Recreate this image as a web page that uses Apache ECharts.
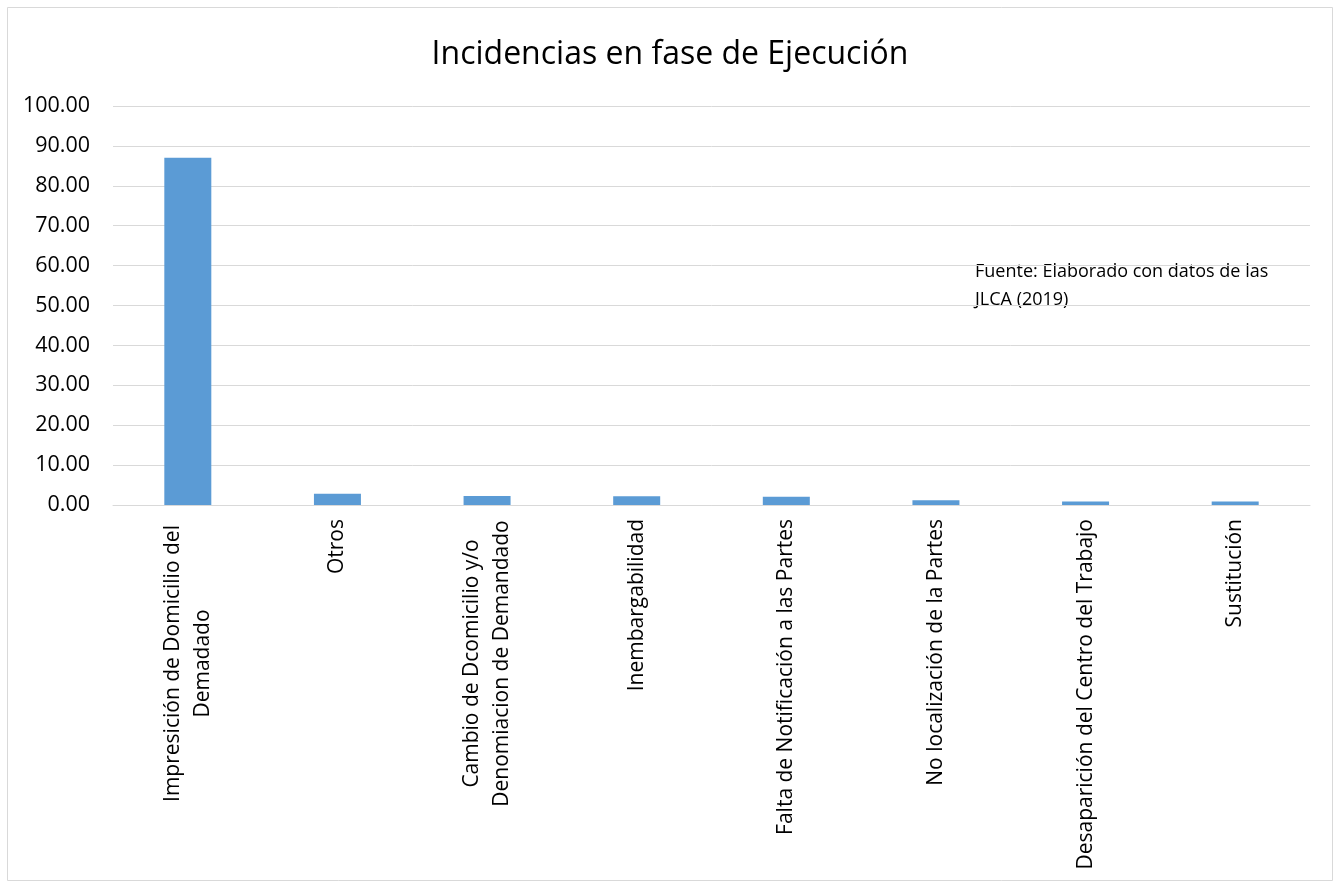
<!DOCTYPE html>
<html>
<head>
<meta charset="utf-8">
<script src="https://cdn.jsdelivr.net/npm/echarts@6/dist/echarts.min.js"></script>
<style>
  html, body { margin: 0; padding: 0; background: #fff; }
  #chart { width: 1340px; height: 888px; }
</style>
</head>
<body>
<div id="chart"></div>
<script>
const categories = [
  'Impresición de Domicilio del\nDemadado',
  'Otros',
  'Cambio de Dcomicilio y/o\nDenomiacion de Demandado',
  'Inembargabilidad',
  'Falta de Notificación a las Partes',
  'No localización de la Partes',
  'Desaparición del Centro del Trabajo',
  'Sustitución'
]
const values = [87.0, 2.83, 2.26, 2.18, 2.08, 1.18, 0.85, 0.85]
const title = 'Incidencias en fase de Ejecución'
const noteLines = ['Fuente: Elaborado con datos de las', 'JLCA (2019)']

const FONT = '"Open Sans", "Liberation Sans", sans-serif'
const labelSize = 21

// measure widest line so two-line labels can be centred like Excel does
const ctx = document.createElement('canvas').getContext('2d')
ctx.font = `${labelSize}px ${FONT}`
function lineWidth(s) { return Math.ceil(ctx.measureText(s).width) + 2 }

function formatLabel(value) {
  if (value.indexOf('\n') < 0) return value
  return value.split('\n').map(l => `{c|${l}}`).join('\n')
}
const maxMulti = Math.max(...categories.filter(c => c.includes('\n'))
  .flatMap(c => c.split('\n')).map(lineWidth))

const chart = echarts.init(document.getElementById('chart'))
chart.setOption({
  backgroundColor: '#fff',
  animation: false,
  title: {
    text: title,
    left: 'center',
    top: 34,
    textStyle: { fontFamily: FONT, fontSize: 32, fontWeight: 'normal', color: '#000' }
  },
  grid: { left: 113, right: 30, top: 106, bottom: 383 },
  xAxis: {
    type: 'category',
    data: categories,
    axisLine: { lineStyle: { color: '#d9d9d9', width: 1 } },
    axisTick: { show: false },
    axisLabel: {
      interval: 0,
      rotate: 90,
      margin: 14,
      color: '#000',
      fontFamily: FONT,
      fontSize: labelSize,
      lineHeight: 30,
      formatter: formatLabel,
      rich: {
        c: { width: maxMulti, align: 'center', fontFamily: FONT, fontSize: labelSize, color: '#000', lineHeight: 30 }
      }
    }
  },
  yAxis: {
    type: 'value',
    min: 0,
    max: 100,
    interval: 10,
    axisLine: { show: false },
    axisTick: { show: false },
    axisLabel: {
      margin: 23,
      color: '#000',
      fontFamily: FONT,
      fontSize: 21.5,
      formatter: v => v.toFixed(2)
    },
    splitLine: { lineStyle: { color: '#d9d9d9', width: 1 } }
  },
  series: [{
    type: 'bar',
    data: values,
    barWidth: 47,
    itemStyle: { color: '#5b9bd5' }
  }],
  graphic: [
    {
      type: 'rect',
      shape: { x: 7.5, y: 7.5, width: 1325, height: 873 },
      style: { fill: 'none', stroke: '#d9d9d9', lineWidth: 1 },
      silent: true
    },
    {
      type: 'text',
      left: 975,
      top: 258,
      style: {
        text: noteLines.join('\n'),
        fontFamily: FONT,
        fontSize: 18,
        lineHeight: 28,
        fill: '#000'
      }
    }
  ]
})
</script>
</body>
</html>
